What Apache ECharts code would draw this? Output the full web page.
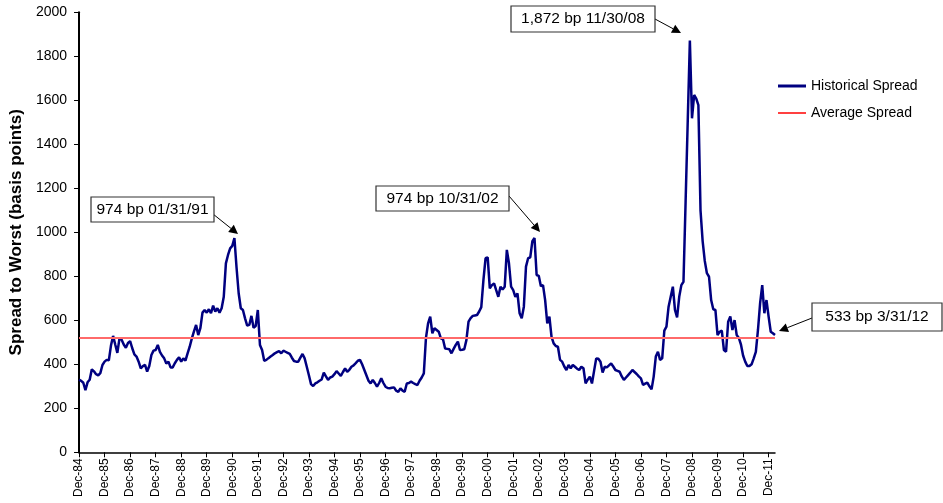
<!DOCTYPE html>
<html><head><meta charset="utf-8">
<script src="https://cdn.jsdelivr.net/npm/echarts@6/dist/echarts.min.js"></script>
<style>html,body{margin:0;padding:0;background:#fff}#c{width:943px;height:503px}</style>
</head><body><div id="c"></div>
<script>
// Monthly spread to worst (bp), Dec-84 .. Mar-12
const s1984 = [330];
const s1985 = [325, 316, 282, 318, 330, 377, 368, 355, 350, 360, 397, 412];
const s1986 = [420, 418, 485, 529, 490, 452, 518, 512, 490, 475, 497, 505];
const s1987 = [473, 445, 435, 412, 382, 392, 397, 367, 392, 442, 462, 465];
const s1988 = [488, 457, 440, 427, 404, 412, 386, 386, 405, 420, 432, 412];
const s1989 = [427, 417, 450, 480, 518, 550, 579, 533, 564, 635, 647, 635];
const s1990 = [650, 632, 667, 640, 655, 635, 655, 707, 859, 897, 927, 938];
const s1991 = [974, 840, 723, 655, 647, 609, 576, 579, 620, 566, 574, 647];
const s1992 = [488, 465, 416, 420, 428, 435, 442, 450, 455, 460, 450, 462];
const s1993 = [457, 452, 447, 430, 415, 412, 412, 430, 447, 427, 389, 350];
const s1994 = [310, 301, 313, 318, 325, 331, 362, 345, 329, 340, 344, 355];
const s1995 = [369, 358, 347, 365, 381, 366, 375, 389, 395, 405, 416, 420];
const s1996 = [400, 375, 350, 325, 313, 329, 315, 298, 315, 336, 315, 298];
const s1997 = [292, 291, 293, 295, 280, 275, 291, 280, 275, 313, 315, 321];
const s1998 = [315, 310, 306, 325, 340, 359, 520, 586, 617, 541, 564, 556];
const s1999 = [548, 518, 514, 472, 470, 468, 450, 470, 488, 503, 465, 466];
const s2000 = [468, 510, 594, 610, 620, 622, 624, 640, 660, 783, 882, 886];
const s2001 = [745, 760, 768, 737, 707, 753, 740, 753, 920, 859, 753, 737];
const s2002 = [707, 722, 632, 609, 662, 844, 882, 886, 960, 974, 806, 802];
const s2003 = [755, 760, 692, 586, 617, 525, 495, 483, 480, 420, 412, 390];
const s2004 = [374, 397, 382, 397, 389, 380, 374, 389, 382, 313, 330, 344];
const s2005 = [313, 370, 427, 425, 412, 363, 389, 386, 395, 404, 390, 374];
const s2006 = [370, 366, 345, 329, 340, 351, 362, 374, 365, 356, 345, 336];
const s2007 = [306, 312, 317, 300, 286, 344, 435, 457, 420, 427, 553, 571];
const s2008 = [662, 707, 753, 647, 613, 707, 760, 775, 1140, 1506, 1872, 1518];
const s2009 = [1624, 1608, 1578, 1100, 960, 870, 814, 798, 692, 650, 647, 533];
const s2010 = [548, 553, 465, 457, 594, 617, 556, 601, 533, 520, 490, 440];
const s2011 = [412, 392, 392, 400, 427, 457, 556, 677, 760, 632, 692, 617];
const s2012 = [548, 541, 533];

const avgSpread = 519;
const monthNames = ['Jan','Feb','Mar','Apr','May','Jun','Jul','Aug','Sep','Oct','Nov','Dec'];
const yTicks = {min: 0, max: 2000, interval: 200};

const historical = [].concat(s1984, s1985, s1986, s1987, s1988, s1989, s1990, s1991, s1992,
  s1993, s1994, s1995, s1996, s1997, s1998, s1999, s2000, s2001, s2002, s2003, s2004,
  s2005, s2006, s2007, s2008, s2009, s2010, s2011, s2012);

const categories = historical.map((_, i) => {
  const k = 11 + i;
  const yr = (1984 + Math.floor(k / 12)) % 100;
  return monthNames[k % 12] + '-' + String(yr).padStart(2, '0');
});

const FONT = 'Liberation Sans, Arial, sans-serif';

function arrow(x1, y1, x2, y2) {
  const ang = Math.atan2(y2 - y1, x2 - x1);
  const L = 9, W = 4.5;
  const bx = x2 - L * Math.cos(ang), by = y2 - L * Math.sin(ang);
  const px = -Math.sin(ang) * W, py = Math.cos(ang) * W;
  return [
    {type: 'line', shape: {x1, y1, x2: bx, y2: by}, style: {stroke: '#000', lineWidth: 1}, silent: true},
    {type: 'polygon', shape: {points: [[x2, y2], [bx + px, by + py], [bx - px, by - py]]}, style: {fill: '#000'}, silent: true}
  ];
}
function box(x, y, w, h, text) {
  return [
    {type: 'rect', shape: {x, y, width: w, height: h}, style: {fill: '#fff', stroke: '#333', lineWidth: 1.2}, silent: true, z: 10},
    {type: 'text', x: x + w / 2, y: y + h / 2, z: 11, silent: true,
     style: {text, fill: '#000', font: '15.5px ' + FONT, textAlign: 'center', textVerticalAlign: 'middle'}}
  ];
}

const chart = echarts.init(document.getElementById('c'), null, {renderer: 'canvas'});
chart.setOption({
  animation: false,
  backgroundColor: '#fff',
  textStyle: {fontFamily: FONT},
  grid: {left: 79, right: 168, top: 12.3, bottom: 50.7},
  legend: [
    {data: ['Historical Spread'], left: 778, top: 79, padding: 0, orient: 'vertical', icon: 'rect',
     itemWidth: 28, itemHeight: 3, textStyle: {fontSize: 14, color: '#000', fontFamily: FONT}},
    {data: ['Average Spread'], left: 778, top: 106, padding: 0, orient: 'vertical', icon: 'rect',
     itemWidth: 28, itemHeight: 1.5, textStyle: {fontSize: 14, color: '#000', fontFamily: FONT}}
  ],
  xAxis: {
    type: 'category', data: categories, boundaryGap: false,
    axisLine: {lineStyle: {color: '#000', width: 1.5}},
    axisTick: {show: true, interval: 11, length: 5, lineStyle: {color: '#000'}},
    axisLabel: {interval: 11, rotate: 90, fontSize: 12, color: '#000', margin: 6, fontFamily: FONT},
    splitLine: {show: false}
  },
  yAxis: {
    type: 'value', min: yTicks.min, max: yTicks.max, interval: yTicks.interval,
    name: 'Spread to Worst (basis points)', nameLocation: 'middle', nameGap: 51,
    nameTextStyle: {fontSize: 17, fontWeight: 'bold', color: '#000', fontFamily: FONT},
    axisLine: {show: true, lineStyle: {color: '#000', width: 2}},
    axisTick: {show: true, length: 5, lineStyle: {color: '#000'}},
    axisLabel: {fontSize: 14, color: '#000', margin: 12, fontFamily: FONT, formatter: v => String(v)},
    splitLine: {show: false}
  },
  series: [
    {name: 'Historical Spread', type: 'line', data: historical, symbol: 'none', z: 3,
     lineStyle: {color: '#000080', width: 2.5}, itemStyle: {color: '#000080'}},
    {name: 'Average Spread', type: 'line', data: [], symbol: 'none',
     itemStyle: {color: '#ff0000'}, lineStyle: {color: '#ff0000'},
     markLine: {silent: true, symbol: 'none', label: {show: false}, animation: false,
       lineStyle: {color: '#ff6a6a', width: 1.8, type: 'solid'},
       data: [{yAxis: avgSpread}]}}
  ],
  graphic: [].concat(
    box(91, 197, 123, 25, '974 bp 01/31/91'), arrow(213, 214, 238, 234),
    box(376, 186, 133, 25, '974 bp 10/31/02'), arrow(509, 196, 540, 232),
    box(511, 6, 144, 26, '1,872 bp 11/30/08'), arrow(655, 19, 681, 33),
    box(812, 303, 130, 28, '533 bp 3/31/12'), arrow(812, 318, 779, 331)
  )
});
</script></body></html>
